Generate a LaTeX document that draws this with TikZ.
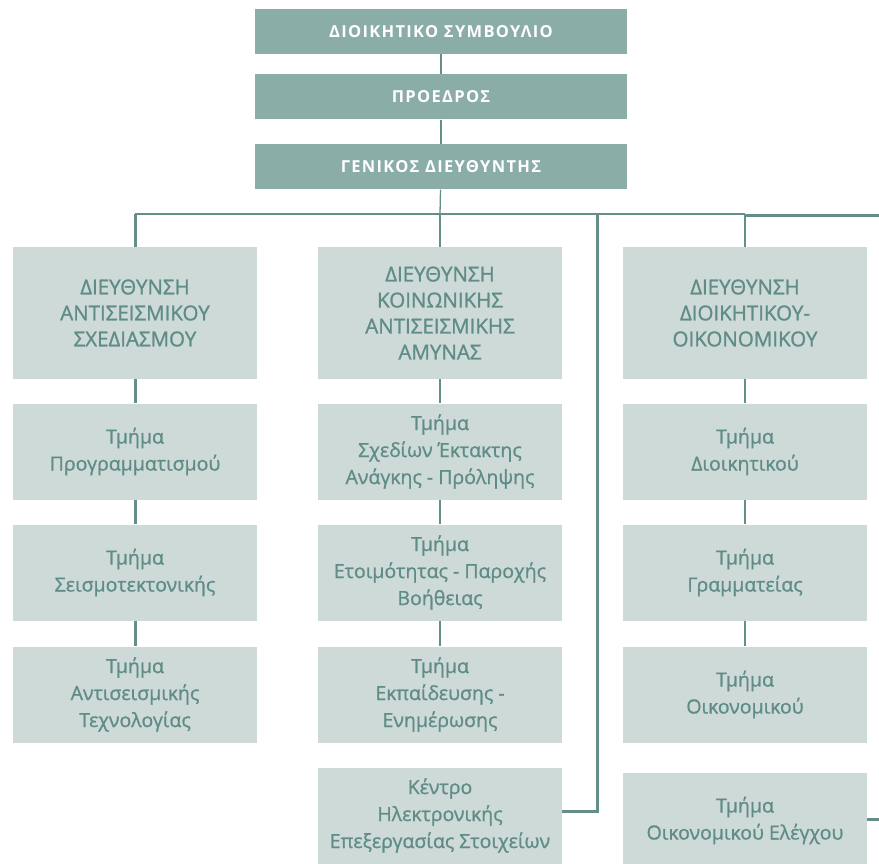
\documentclass[tikz,border=0pt]{standalone}
\usepackage{fontspec}
\setmainfont{Open Sans}
\usetikzlibrary{positioning,calc}
\definecolor{topfill}{HTML}{8BADA8}
\definecolor{boxfill}{HTML}{CDDAD8}
\definecolor{txt}{HTML}{5F8C87}
\definecolor{linec}{HTML}{658E89}
\tikzset{
  topbox/.style={fill=topfill,text=white,minimum width=372pt,minimum height=45pt,inner sep=0pt,font=\fontsize{16.5}{20}\selectfont\bfseries\addfontfeatures{LetterSpace=8}},
  dirbox/.style={fill=boxfill,text=txt,minimum width=244pt,minimum height=132pt,inner sep=0pt,align=center,font=\fontsize{20.5}{26}\selectfont\addfontfeatures{FakeBold=1.2}},
  unitbox/.style={fill=boxfill,text=txt,minimum width=244pt,minimum height=96pt,inner sep=0pt,align=center,font=\fontsize{19.5}{27}\selectfont\addfontfeatures{FakeBold=1}},
  link/.style={draw=linec,line width=1.3pt},
  trunk/.style={draw=linec,line width=2.2pt},
  heavy/.style={draw=linec,line width=3pt}
}
\begin{document}
\begin{tikzpicture}[x=1pt,y=-1pt]
\useasboundingbox (0,0) rectangle (879,864);
\clip (0,0) rectangle (879,864);
\fill[white] (0,0) rectangle (879,864);
\node[topbox] (board) at (441,31.5) {ΔΙΟΙΚΗΤΙΚΟ ΣΥΜΒΟΥΛΙΟ};
\node[topbox] (pres) at (441,97) {ΠΡΟΕΔΡΟΣ};
\node[topbox] (gm) at (441,167) {ΓΕΝΙΚΟΣ ΔΙΕΥΘΥΝΤΗΣ};
\node[dirbox] (dir1) at (135,313) {ΔΙΕΥΘΥΝΣΗ\\ΑΝΤΙΣΕΙΣΜΙΚΟΥ\\ΣΧΕΔΙΑΣΜΟΥ};
\node[dirbox] (dir2) at (440,313) {ΔΙΕΥΘΥΝΣΗ\\ΚΟΙΝΩΝΙΚΗΣ\\ΑΝΤΙΣΕΙΣΜΙΚΗΣ\\ΑΜΥΝΑΣ};
\node[dirbox] (dir3) at (745,313) {ΔΙΕΥΘΥΝΣΗ\\ΔΙΟΙΚΗΤΙΚΟΥ-\\ΟΙΚΟΝΟΜΙΚΟΥ};
\node[unitbox] (plan) at (135,451.5) {Τμήμα\\Προγραμματισμού};
\node[unitbox] (seism) at (135,572.5) {Τμήμα\\Σεισμοτεκτονικής};
\node[unitbox] (tech) at (135,694.5) {Τμήμα\\Αντισεισμικής\\Τεχνολογίας};
\node[unitbox] (emerg) at (440,451.5) {Τμήμα\\Σχεδίων Έκτακτης\\Ανάγκης - Πρόληψης};
\node[unitbox] (ready) at (440,572.5) {Τμήμα\\Ετοιμότητας - Παροχής\\Βοήθειας};
\node[unitbox] (edu) at (440,694.5) {Τμήμα\\Εκπαίδευσης -\\Ενημέρωσης};
\node[unitbox] (it) at (440,815.5) {Κέντρο\\Ηλεκτρονικής\\Επεξεργασίας Στοιχείων};
\node[unitbox] (admin) at (745,451.5) {Τμήμα\\Διοικητικού};
\node[unitbox] (secr) at (745,572.5) {Τμήμα\\Γραμματείας};
\node[unitbox] (econ) at (745,694.5) {Τμήμα\\Οικονομικού};
\node[unitbox] (audit) at (745,820.5) {Τμήμα\\Οικονομικού Ελέγχου};
\coordinate (j1) at (135,214);
\coordinate (j2) at (440,214);
\coordinate (jt) at (597,214);
\coordinate (j3) at (745,214);
\draw[link] (board) -- (pres);
\draw[link] (pres) -- (gm);
\draw[link] (gm) -- (j2);
\draw[trunk] (j1) -- (jt);
\draw[link] (jt) -- (j3);
\draw[heavy] (j1) -- (dir1);
\draw[link] (j2) -- (dir2);
\draw[link] (j3) -- (dir3);
\draw[heavy] (dir1) -- (plan);
\draw[heavy] (plan) -- (seism);
\draw[heavy] (seism) -- (tech);
\draw[link] (dir2) -- (emerg);
\draw[link] (emerg) -- (ready);
\draw[link] (ready) -- (edu);
\draw[link] (dir3) -- (admin);
\draw[link] (admin) -- (secr);
\draw[link] (secr) -- (econ);
\draw[heavy] ([yshift=4pt]it.east) -| (jt);
\draw[heavy] ([yshift=1.5pt]audit.east) -- ++(20,0) |- ([yshift=-1.5pt]j3);
\end{tikzpicture}
\end{document}
